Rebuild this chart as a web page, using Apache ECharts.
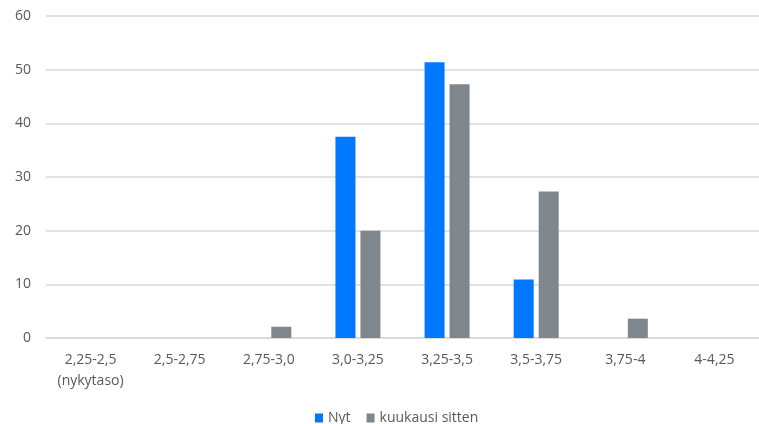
<!DOCTYPE html>
<html><head><meta charset="utf-8">
<script src="https://cdn.jsdelivr.net/npm/echarts@6/dist/echarts.min.js"></script>
<style>html,body{margin:0;padding:0;background:#fff}#c{width:759px;height:424px}</style>
</head><body><div id="c"></div>
<script>
const categories = ['2,25-2,5\n(nykytaso)', '2,5-2,75', '2,75-3,0', '3,0-3,25', '3,25-3,5', '3,5-3,75', '3,75-4', '4-4,25'];
const nyt = [0, 0, 0, 37.5, 51.4, 10.9, 0, 0];
const kuukausiSitten = [0, 0, 2.1, 20, 47.3, 27.3, 3.6, 0];
const yTicks = [0, 10, 20, 30, 40, 50, 60];

const chart = echarts.init(document.getElementById('c'));
const font = '"Open Sans", "Noto Sans", sans-serif';
chart.setOption({
  animation: false,
  textStyle: { fontFamily: font },
  grid: { left: 46, top: 16, width: 716, height: 322, containLabel: false },
  legend: {
    top: 406, left: 310,
    itemWidth: 8, itemHeight: 9, itemGap: 16,
    icon: 'rect',
    textStyle: { color: '#595959', fontSize: 14, fontFamily: font },
    data: ['Nyt', 'kuukausi sitten']
  },
  xAxis: {
    type: 'category',
    data: categories,
    axisLine: { lineStyle: { color: '#d9d9d9', width: 1.5 } },
    axisTick: { show: false },
    axisLabel: { color: '#595959', fontSize: 14, margin: 12, lineHeight: 21, fontFamily: font, interval: 0 }
  },
  yAxis: {
    type: 'value',
    min: yTicks[0], max: yTicks[yTicks.length - 1], interval: 10,
    axisLine: { show: false },
    axisTick: { show: false },
    splitLine: { lineStyle: { color: '#d9d9d9', width: 1.5 } },
    axisLabel: { color: '#595959', fontSize: 14, margin: 15, fontFamily: font }
  },
  series: [
    { name: 'Nyt', type: 'bar', data: nyt, barWidth: 20, barGap: '25%',
      itemStyle: { color: '#0078ff' } },
    { name: 'kuukausi sitten', type: 'bar', data: kuukausiSitten, barWidth: 20,
      itemStyle: { color: '#7f878c' } }
  ]
});
</script></body></html>
